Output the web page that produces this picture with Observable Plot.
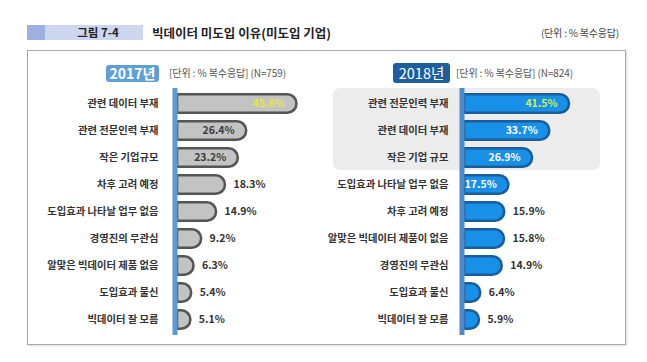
<!DOCTYPE html>
<html>
<head>
<meta charset="utf-8">
<script src="https://cdn.jsdelivr.net/npm/d3@7"></script>
<script src="https://cdn.jsdelivr.net/npm/@observablehq/plot@0.6"></script>
<style>
  html, body { margin: 0; padding: 0; background: #fff; }
  body { font-family: "Noto Sans CJK KR", "Noto Sans", sans-serif; }
  #wrap { position: relative; width: 647px; height: 362px; overflow: hidden; background: #fff; }
  .abs { position: absolute; }
  #figbox { left: 27px; top: 25px; width: 116px; height: 15px; background: #cdd6ef; }
  #figstrip { left: 27px; top: 25px; width: 18px; height: 15px; background: #9fb0df; }
  #figlabel { left: 45px; top: 24px; width: 106px; height: 17px; line-height: 17px; text-align: center; font-size: 11.5px; font-weight: bold; color: #222; }
  #title { left: 152px; top: 23px; font-size: 12.5px; font-weight: bold; color: #222; line-height: 19px; white-space: nowrap; }
  #unit { right: 28px; top: 24px; font-size: 10px; color: #444; line-height: 17px; white-space: nowrap; letter-spacing: -0.2px; }
  #panel { left: 27px; top: 50px; width: 597px; height: 293px; border: 1.5px solid #a8a8a8; box-shadow: 1px 1px 2px rgba(0,0,0,0.15); }
  .badge { color: #fff; font-weight: bold; text-align: center; border-radius: 3px; white-space: nowrap; }
  #b2017 { left: 106px; top: 65px; width: 53px; height: 17px; line-height: 17px; font-size: 14px; background: #5f9fd8; }
  #b2018 { left: 393px; top: 63px; width: 57px; height: 20px; line-height: 20px; font-size: 14.5px; background: #1d5f9e; font-weight: normal; }
  .sub { font-size: 10px; color: #555; white-space: nowrap; line-height: 14px; letter-spacing: -0.1px; }
  #s2017 { left: 169px; top: 66px; }
  #s2018 { left: 456px; top: 66px; }
  #hl { left: 333px; top: 88px; width: 267px; height: 82px; background: #ececec; border-radius: 7px; }
  #c2017 { left: 0px; top: 88px; }
  #c2018 { left: 320px; top: 88px; }
</style>
</head>
<body>
<div id="wrap">
  <div class="abs" id="figbox"></div>
  <div class="abs" id="figstrip"></div>
  <div class="abs" id="figlabel">그림 7-4</div>
  <div class="abs" id="title">빅데이터 미도입 이유(미도입 기업)</div>
  <div class="abs" id="unit">(단위 : % 복수응답)</div>
  <div class="abs" id="panel"></div>
  <div class="abs" id="hl"></div>
  <div class="abs badge" id="b2017">2017년</div>
  <div class="abs sub" id="s2017">[단위 : % 복수응답] (N=759)</div>
  <div class="abs badge" id="b2018">2018년</div>
  <div class="abs sub" id="s2018">[단위 : % 복수응답] (N=824)</div>
  <div class="abs" id="c2017"></div>
  <div class="abs" id="c2018"></div>
</div>
<script>
const cats2017 = ["관련 데이터 부재","관련 전문인력 부재","작은 기업규모","차후 고려 예정","도입효과 나타날 업무 없음","경영진의 무관심","알맞은 빅데이터 제품 없음","도입효과 불신","빅데이터 잘 모름"];
const vals2017 = [45.6, 26.4, 23.2, 18.3, 14.9, 9.2, 6.3, 5.4, 5.1];
const cats2018 = ["관련 전문인력 부재","관련 데이터 부재","작은 기업 규모","도입효과 나타날 업무 없음","차후 고려 예정","알맞은 빅데이터 제품이 없음","경영진의 무관심","도입효과 불신","빅데이터 잘 모름"];
const vals2018 = [41.5, 33.7, 26.9, 17.5, 15.9, 15.8, 14.9, 6.4, 5.9];

function makeChart({cats, vals, width, marginLeft, marginRight, fill, stroke, axisColor, insideMin, topColor, insideColor, labelDx}) {
  const data = cats.map((c, i) => ({cat: c, value: vals[i]}));
  const maxV = d3.max(vals);
  const inside = data.filter(d => d.value >= insideMin);
  const outside = data.filter(d => d.value < insideMin);
  return Plot.plot({
    width, height: 247,
    marginLeft, marginRight, marginTop: 0, marginBottom: 0,
    x: {domain: [0, 50], axis: null},
    y: {domain: cats, axis: null, paddingInner: 0.23, paddingOuter: 0.15},
    style: {fontFamily: "'Noto Sans CJK KR', 'Noto Sans', sans-serif", background: "transparent", overflow: "visible"},
    marks: [
      Plot.barX(data, {x: "value", y: "cat", fill, stroke, strokeWidth: 2.6, insetTop: 1.3, insetBottom: 1.3, rx2: 10}),
      Plot.ruleX([0], {stroke: axisColor, strokeWidth: 5, dx: -2.5}),
      Plot.text(data, {x: 0, y: "cat", text: "cat", textAnchor: "end", dx: labelDx, fontSize: 10.3, fontWeight: "bold", fill: "#333"}),
      Plot.text(inside, {x: "value", y: "cat", text: d => d.value.toFixed(1) + "%", textAnchor: "end", dx: -12, fontSize: 10.5, fontWeight: "bold", fill: d => d.value === maxV ? topColor : insideColor}),
      Plot.text(outside, {x: "value", y: "cat", text: d => d.value.toFixed(1) + "%", textAnchor: "start", dx: 8, fontSize: 10.5, fontWeight: "bold", fill: "#333"})
    ]
  });
}

document.getElementById("c2017").append(makeChart({
  cats: cats2017, vals: vals2017, width: 320, marginLeft: 177, marginRight: 12,
  fill: "#c3c3c3", stroke: "#555", axisColor: "#5a9bd6", insideMin: 20,
  topColor: "#e8e83c", insideColor: "#3a3a3a", labelDx: -19
}));
document.getElementById("c2018").append(makeChart({
  cats: cats2018, vals: vals2018, width: 327, marginLeft: 144, marginRight: 56.5,
  fill: "#1990e8", stroke: "#1a5c9c", axisColor: "#4e88c6", insideMin: 17,
  topColor: "#c9ef5a", insideColor: "#ffffff", labelDx: -16
}));
</script>
</body>
</html>
